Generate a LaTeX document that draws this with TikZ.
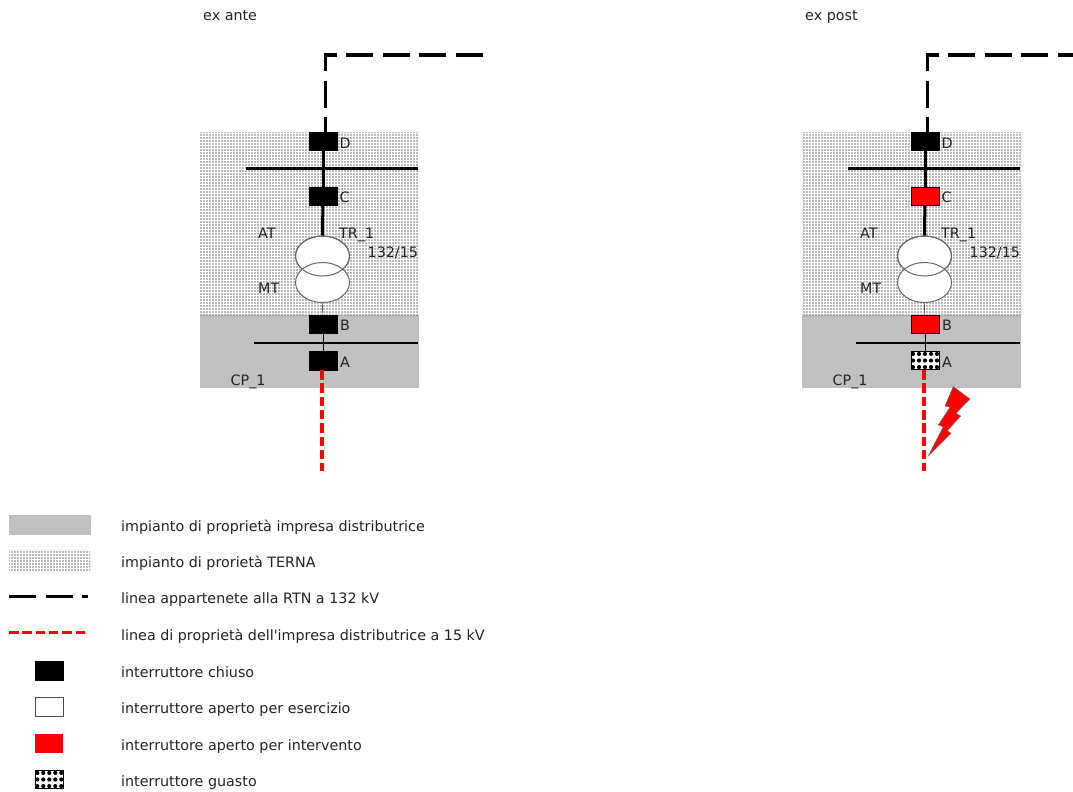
\documentclass[tikz,border=0pt]{standalone}
\usepackage{fontspec}
\setmainfont[Ligatures=TeXOff]{DejaVu Sans}
\usetikzlibrary{shapes.geometric, patterns.meta}
\definecolor{cpgray}{RGB}{192,192,192}
\definecolor{inkgray}{RGB}{34,34,34}
\tikzset{
	txt/.style = {inner sep = 0pt, text = inkgray, font = \fontsize{14.3}{16}\selectfont},
	brk/.style = {minimum width = 28pt, minimum height = 18.5pt, inner sep = 0pt},
	closedbrk/.style = {brk, fill = black, draw = black, line width = 0.5pt},
	openbrk/.style = {brk, fill = white, draw = black!70, line width = 1pt},
	tripbrk/.style = {brk, fill = red, draw = black, line width = 0.5pt},
	legtrip/.style = {brk, fill = red},
	failbrk/.style = {brk, fill = white, draw = black, line width = 0.7pt, path picture = {
		\foreach \i in {-2, ..., 2}
			\foreach \j in {-1, 0, 1}
				\fill[black] ([shift = {(\i*6pt, \j*6.6pt)}]path picture bounding box.center) circle (2.1pt);
	}},
	terna/.style = {pattern = {Dots[distance = 3pt, radius = 0.78pt]}, pattern color = black!55},
	rtnline/.style = {line width = 3.3pt, dash pattern = on 27pt off 9.6pt},
	mvline/.style = {line width = 3.4pt, red, dash pattern = on 9.5pt off 3.8pt},
	winding/.style = {ellipse, minimum width = 54pt, minimum height = 40pt, inner sep = 0pt, draw = black!60, line width = 1pt}
}
\begin{document}
\begin{tikzpicture}[x = 1pt, y = -1pt]
	\clip (0, 0) rectangle (1073, 792);

	% both schemes
	\foreach \xo/\nm/\ttl/\sC/\sB/\sA in {0/ante/ex ante/closedbrk/closedbrk/closedbrk, 602/post/ex post/tripbrk/tripbrk/failbrk} {
		\begin{scope}[xshift = \xo pt]
			% areas
			\fill[cpgray] (199.5, 315) rectangle (419, 388);
			\fill[terna] (200, 132) rectangle (419, 315);

			% transformer
			\node[winding, fill = white] (AT\nm) at (322.5, 256) {};
			\node[winding, fill = white] (MT\nm) at (322.5, 282.5) {};
			\draw[black!60, line width = 1pt] (AT\nm.center) ellipse [x radius = 27pt, y radius = 20pt];

			% switches
			\node[closedbrk] (D\nm) at (323, 141.2) {};
			\node[\sC] (C\nm) at (323, 196) {};
			\node[\sB] (B\nm) at (323, 324) {};
			\node[\sA] (A\nm) at (323, 360.5) {};

			% busbars
			\coordinate (hvl\nm) at (246, 168.5);
			\coordinate (hvr\nm) at (418, 168.5);
			\coordinate (mvl\nm) at (254, 343);
			\coordinate (mvr\nm) at (418, 343);
			\draw[line width = 3pt] (hvl\nm) -- (hvr\nm);
			\draw[line width = 1.3pt] (mvl\nm) -- (mvr\nm);

			% lines
			\coordinate (rtn\nm) at (483, 55);
			\coordinate (bend\nm) at (325.7, 55);
			\coordinate (feed\nm) at (322, 471);
			\draw[rtnline] (rtn\nm) -- (bend\nm) -- (bend\nm |- D\nm.north);
			\draw[line width = 3pt] (D\nm) -- (C\nm);
			\draw[line width = 3pt] (C\nm) -- (AT\nm.north);
			\draw (MT\nm.south) -- (B\nm);
			\draw (B\nm) -- (A\nm);
			\draw[mvline] (A\nm.south -| feed\nm) -- (feed\nm);

			% names
			\node[txt, anchor = base west] (ttl\nm) at (203, 20.5) {\ttl};
			\node[txt, anchor = base west] (Dl\nm) at (339.5, 148) {D};
			\node[txt, anchor = base west] (Cl\nm) at (339.5, 202) {C};
			\node[txt, anchor = base west] (ATl\nm) at (258, 238) {AT};
			\node[txt, anchor = base west] (TRl\nm) at (339, 238) {TR\_1};
			\node[txt, anchor = base west] (kVl\nm) at (367.5, 257) {132/15};
			\node[txt, anchor = base west] (MTl\nm) at (258, 293) {MT};
			\node[txt, anchor = base west] (Bl\nm) at (340, 330) {B};
			\node[txt, anchor = base west] (Al\nm) at (340, 367) {A};
			\node[txt, anchor = base west] (CPl\nm) at (230.5, 385) {CP\_1};
		\end{scope}
	}

	% fault
	\draw[fill = red, draw = black!60, line width = 0.5pt] (953.3, 386.7) -- (970, 399) -- (956, 413.3) -- (960.7, 416) -- (947.3, 430.7) -- (951, 433.3) -- (928.3, 456) -- (943.3, 426.7) -- (938.3, 425) -- (950, 407.3) -- (945, 406) -- cycle;

	% legend
	\fill[cpgray] (9, 515) rectangle (91, 534.5);
	\fill[terna] (9, 551) rectangle (90, 571);
	\coordinate (rtna) at (9, 596.5);
	\coordinate (rtnb) at (88, 596.5);
	\coordinate (mva) at (9, 632.5);
	\coordinate (mvb) at (85, 632.5);
	\draw[rtnline] (rtna) -- (rtnb);
	\draw[mvline] (mva) -- (mvb);
	\node[closedbrk] (kclosed) at (49.3, 670.7) {};
	\node[openbrk] (kopen) at (49.3, 707) {};
	\node[legtrip] (ktrip) at (49.3, 743.5) {};
	\node[failbrk] (kfail) at (49.3, 779.5) {};
	\foreach \n/\yy/\lbl in {a/531/impianto di proprietà impresa distributrice,
		b/567/impianto di prorietà TERNA,
		c/603/linea appartenete alla RTN a 132 kV,
		d/640/linea di proprietà dell'impresa distributrice a 15 kV,
		e/677/interruttore chiuso,
		f/713/interruttore aperto per esercizio,
		g/750/interruttore aperto per intervento,
		h/786/interruttore guasto}
		\node[txt, anchor = base west] (leg\n) at (121, \yy) {\lbl};
\end{tikzpicture}
\end{document}
